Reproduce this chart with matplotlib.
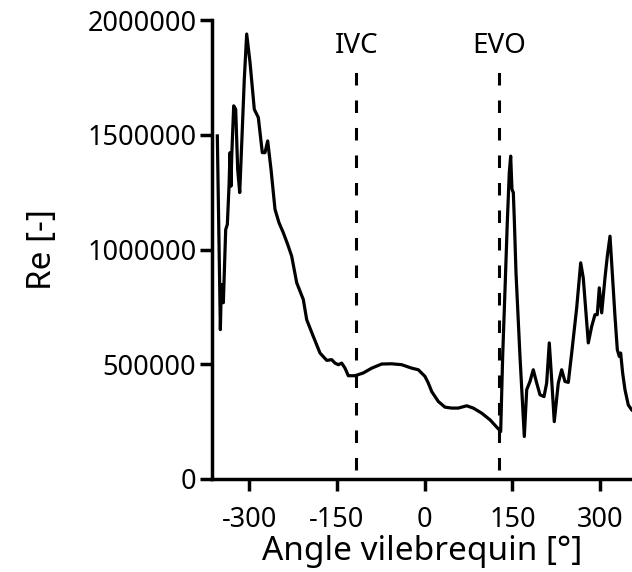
import matplotlib
matplotlib.use("Agg")
import matplotlib.pyplot as plt

angle = [-354.5, -349.3, -347.6, -344.2, -340.2, -337.4, -334.5, -332.8, -331.1, -329.9,
         -326.5, -323.1, -319.7, -316.2, -311.8, -308.4, -304.3, -298.6, -291.3, -284.4,
         -277.6, -273.0, -268.4, -262.7, -255.9, -249.1, -241.7, -234.2, -227.4, -218.8,
         -207.5, -201.7, -190.4, -179.0, -167.5, -159.0, -153.3, -147.7, -141.9, -136.2,
         -130.6, -119.1, -105.0, -90.6, -73.5, -56.4, -39.3, -22.2, -10.9, 0.5,
         6.2, 12.0, 23.2, 34.7, 46.2, 57.4, 71.8, 83.1, 97.4, 111.6,
         127.5, 129.9, 133.3, 137.3, 141.2, 144.6, 147.0, 149.2, 151.5, 153.2,
         156.1, 162.9, 170.3, 174.4, 180.0, 185.6, 191.5, 197.1, 204.0, 208.5,
         213.0, 217.1, 221.5, 228.4, 234.2, 239.8, 245.5, 251.3, 259.8, 266.7,
         271.1, 279.7, 285.5, 291.1, 295.0, 298.5, 302.6, 308.2, 312.2, 316.8,
         321.4, 325.3, 329.3, 332.7, 335.0, 338.4, 342.4, 348.0, 353.8, 360.0]
re_vals = [1495e3, 651e3, 847e3, 768e3, 1087e3, 1109e3, 1276e3, 1422e3, 1276e3, 1407e3,
           1626e3, 1611e3, 1349e3, 1248e3, 1524e3, 1742e3, 1939e3, 1815e3, 1611e3, 1575e3,
           1422e3, 1422e3, 1473e3, 1349e3, 1175e3, 1117e3, 1073e3, 1022e3, 971e3, 855e3,
           782e3, 694e3, 621e3, 549e3, 517e3, 520e3, 505e3, 498e3, 505e3, 483e3,
           450e3, 450e3, 462e3, 483e3, 501e3, 502e3, 498e3, 483e3, 476e3, 447e3,
           418e3, 381e3, 338e3, 313e3, 309e3, 309e3, 319e3, 309e3, 287e3, 258e3,
           214e3, 207e3, 534e3, 825e3, 1117e3, 1335e3, 1407e3, 1262e3, 1248e3, 1131e3,
           898e3, 534e3, 185e3, 389e3, 425e3, 476e3, 418e3, 367e3, 359e3, 418e3,
           593e3, 432e3, 250e3, 418e3, 476e3, 425e3, 421e3, 549e3, 745e3, 942e3,
           876e3, 593e3, 665e3, 716e3, 716e3, 833e3, 724e3, 876e3, 971e3, 1058e3,
           869e3, 709e3, 563e3, 534e3, 549e3, 462e3, 389e3, 323e3, 301e3, 290e3]

events = ["IVC", "EVO"]
event_angles = [-117, 127]

xticks = [-300, -150, 0, 150, 300]
yticks = [0, 500000, 1000000, 1500000, 2000000]

plt.rcParams['font.family'] = ['Noto Sans', 'DejaVu Sans']

fig = plt.figure(figsize=(6.32, 5.72), dpi=100)
ax = fig.add_axes([0.336, 0.1626, 0.664, 0.8024])

ax.plot(angle, re_vals, color='black', lw=2.3, solid_joinstyle='round')
for name, a in zip(events, event_angles):
    ax.plot([a, a], [40000, 1790000], color='black', lw=2.2, ls=(0, (4.1, 4.9)))
    ax.text(a, 1885000, name, ha='center', va='center', fontsize=20)

ax.set_xlim(-363, 354.4)
ax.set_ylim(0, 2000000)
ax.set_xticks(xticks)
ax.set_yticks(yticks)
ax.set_xticklabels([str(t) for t in xticks])
ax.set_yticklabels([str(t) for t in yticks])

for s in ['top', 'right']:
    ax.spines[s].set_visible(False)
for s in ['left', 'bottom']:
    ax.spines[s].set_linewidth(2.5)
ax.tick_params(axis='both', direction='out', length=8.5, width=2.5, labelsize=19.5)
ax.tick_params(axis='x', pad=11)
ax.tick_params(axis='y', pad=3)
ax.set_xlabel("Angle vilebrequin [°]", fontsize=24, labelpad=1)
ax.set_ylabel("Re [-]", fontsize=24, labelpad=20)

fig.savefig("out.png", dpi=100)
